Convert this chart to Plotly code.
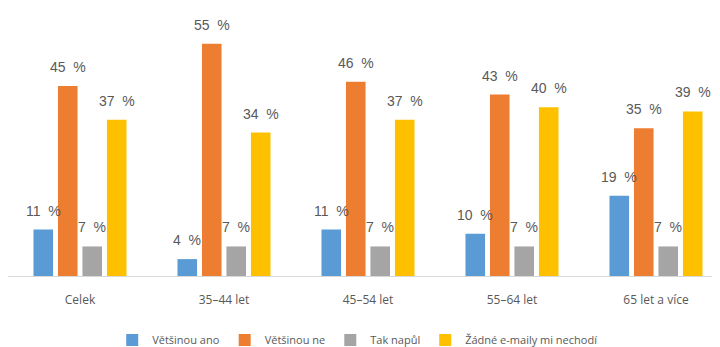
import plotly.graph_objects as go

categories = ["Celek", "35–44 let", "45–54 let", "55–64 let", "65 let a více"]
series_names = ["Většinou ano", "Většinou ne", "Tak napůl", "Žádné e-maily mi nechodí"]
vetsinou_ano = [11, 4, 11, 10, 19]
vetsinou_ne = [45, 55, 46, 43, 35]
tak_napul = [7, 7, 7, 7, 7]
zadne_emaily = [37, 34, 37, 40, 39]
colors = ["#5B9BD5", "#ED7D31", "#A5A5A5", "#FFC000"]

series_values = [vetsinou_ano, vetsinou_ne, tak_napul, zadne_emaily]

bargap = 0.32
px_per_cat = 144
slot = px_per_cat * (1 - bargap) / len(series_values)

fig = go.Figure()
for i, (name, vals, col) in enumerate(zip(series_names, series_values, colors)):
    fig.add_trace(
        go.Bar(
            x=categories,
            y=vals,
            name=name,
            marker=dict(color=col, line=dict(width=0)),
        )
    )
    for cat, v in zip(categories, vals):
        fig.add_annotation(
            x=cat,
            y=v,
            text=f"{v}\u00a0 %",
            showarrow=False,
            xanchor="center",
            yanchor="bottom",
            xshift=(i - 1.5) * slot,
            yshift=9,
            font=dict(family="Liberation Sans, Arial", size=14, color="#595959"),
        )

# page body has a default 8px margin, so the figure is laid out slightly up/left
fig.update_layout(
    width=720,
    height=347,
    barmode="group",
    bargap=bargap,
    bargroupgap=0.2,
    plot_bgcolor="white",
    paper_bgcolor="white",
    margin=dict(l=0, r=0, t=0, b=79),
    legend=dict(
        orientation="h",
        x=0.485,
        xanchor="center",
        y=-0.239,
        yanchor="middle",
        font=dict(family="Open Sans, Noto Sans", size=11, color="#595959"),
        itemwidth=30,
    ),
    showlegend=True,
)
fig.update_xaxes(
    range=[-0.5, 4.5],
    showline=True,
    linecolor="#D9D9D9",
    linewidth=1,
    showgrid=False,
    ticks="",
    ticklabelstandoff=13,
    tickfont=dict(family="Open Sans, Noto Sans", size=12, color="#595959"),
)
fig.update_yaxes(
    range=[0, 63.5],
    visible=False,
    showgrid=False,
)

fig.write_html("out.html")
